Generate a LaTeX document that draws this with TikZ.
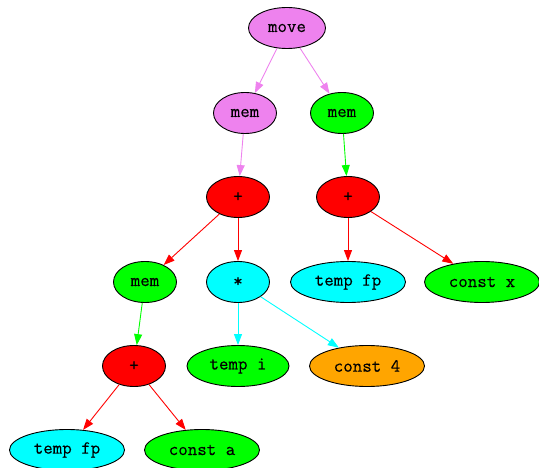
\documentclass[tikz,border=0pt]{standalone}
\usepackage{fontspec}
\setmonofont[FakeBold=0.3]{Latin Modern Mono}
\usetikzlibrary{shapes.geometric,arrows.meta}
\definecolor{gvviolet}{HTML}{EE82EE}
\definecolor{gvgreen}{HTML}{00FF00}
\definecolor{gvred}{HTML}{FF0000}
\definecolor{gvcyan}{HTML}{00FFFF}
\definecolor{gvorange}{HTML}{FFA500}
\tikzset{
  nd/.style={ellipse, draw=black, line width=0.9bp, inner sep=0pt,
    minimum height=41bp, font=\ttfamily\fontsize{18.5}{21}\selectfont},
  sm/.style={nd, minimum width=63bp},
  lg/.style={nd, minimum width=115bp},
  md/.style={nd, minimum width=102bp},
  edge/.style={line width=0.9bp, -{Triangle[length=11bp,width=8bp]}, shorten <=0pt},
}
\begin{document}
\begin{tikzpicture}[x=1bp,y=-1bp]
\useasboundingbox (0,0) rectangle (539,468);
\node[nd, minimum width=77bp, fill=gvviolet] (move) at (287,28) {move};
\node[sm, fill=gvviolet] (meml) at (245,113) {mem};
\node[sm, fill=gvgreen] (memr) at (342,113) {mem};
\node[sm, fill=gvred] (plusl) at (238,197) {+};
\node[sm, fill=gvred] (plusr) at (348,197) {+};
\node[sm, fill=gvgreen] (memb) at (145,282) {mem};
\node[sm, fill=gvcyan] (star) at (238,282) {*};
\node[lg, fill=gvcyan] (tfpr) at (348,282) {temp fp};
\node[lg, fill=gvgreen] (cx) at (482,282) {const x};
\node[sm, fill=gvred] (plusb) at (134,366) {+};
\node[md, fill=gvgreen] (ti) at (238,366) {temp i};
\node[lg, fill=gvorange] (c4) at (367,366) {const 4};
\node[lg, fill=gvcyan] (tfpb) at (67,450) {temp fp};
\node[lg, fill=gvgreen] (ca) at (202,450) {const a};
\draw[edge, gvviolet] (move) -- (meml);
\draw[edge, gvviolet] (move) -- (memr);
\draw[edge, gvviolet] (meml) -- (plusl);
\draw[edge, gvgreen] (memr) -- (plusr);
\draw[edge, gvred] (plusl) -- (memb);
\draw[edge, gvred] (plusl) -- (star);
\draw[edge, gvred] (plusr) -- (tfpr);
\draw[edge, gvred] (plusr) -- (cx);
\draw[edge, gvgreen] (memb) -- (plusb);
\draw[edge, gvcyan] (star) -- (ti);
\draw[edge, gvcyan] (star) -- (c4);
\draw[edge, gvred] (plusb) -- (tfpb);
\draw[edge, gvred] (plusb) -- (ca);
\end{tikzpicture}
\end{document}
